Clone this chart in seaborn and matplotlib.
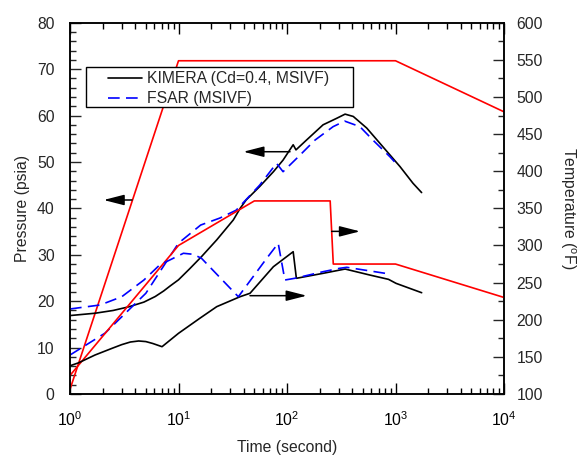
import numpy as np
import pandas as pd
import matplotlib
matplotlib.use("Agg")
import matplotlib.pyplot as plt
from matplotlib.patches import Rectangle
from matplotlib.ticker import LogLocator, MultipleLocator, NullFormatter
import seaborn as sns

# ---------------- data ----------------
# KIMERA pressure (left axis, psia)
t_kimera_p = [1, 1.7, 2.5, 3.5, 4.8, 6.1, 7.3, 8.4, 10, 12.7, 16.3, 22.5, 32, 37, 42, 56, 75, 92,
              114, 121, 151, 215, 287, 343, 408, 543, 719, 1100, 1450, 1740]
kimera_p = [16.9, 17.4, 18.0, 18.8, 19.8, 21.0, 22.2, 23.3, 24.6, 27.0, 29.6, 33.2, 37.5, 40.0,
            41.8, 44.7, 47.9, 50.4, 53.7, 52.6, 54.7, 58.0, 59.4, 60.3, 59.8, 57.3, 54.0, 49.0,
            45.4, 43.4]

# FSAR pressure (left axis, psia)
t_fsar_p = [1, 2.1, 5, 10, 16, 24, 34, 56, 80, 92, 127, 181, 266, 340, 470, 620, 890, 1000]
fsar_p = [8.4, 13.1, 21.7, 32.5, 36.4, 37.9, 39.6, 45.0, 49.7, 47.9, 51.1, 54.7, 57.6,
          58.8, 57.6, 54.7, 51.1, 49.8]

# KIMERA temperature (right axis, F)
t_kimera_t = [1, 1.2, 1.7, 2.44, 3.0, 3.6, 4.29, 5.0, 5.8, 7.05, 10, 15.7, 22.5, 36.9, 45.6,
              74.9, 114, 122, 215, 343, 580, 862, 1012, 1742]
kimera_t = [138, 142, 152.5, 161.5, 166.5, 170.0, 171.4, 170.6, 168.0, 163.7, 181.7, 201.9,
            217.6, 231, 235.6, 271.4, 291.6, 255.8, 262.5, 268.3, 260.2, 254.4, 249, 236.4]

# FSAR temperature (right axis, F)
t_fsar_t = [1, 1.9, 3.0, 4.8, 6.7, 11.1, 13.7, 16.3, 35.6, 65, 83, 95.6, 118, 215,
            307, 355, 804]
fsar_t = [214.5, 219.9, 231, 253.5, 273.7, 289.5, 288.1, 282.7, 231, 282.7, 302.9,
          253.5, 255.8, 264.7, 269.3, 270.6, 262.5]

# red boundary curves
t_red_p = [1, 10, 1000, 10000]
red_p = [1.0, 71.8, 71.8, 60.8]
t_red_t = [1, 10, 50, 250, 267, 1000, 10000]
red_t = [125, 300, 360, 360, 275, 275, 230]

# direction arrows: (tail_x, tip_x, y)
arrows_left = [(3.73, 2.04, 41.8), (106.6, 39.6, 52.2)]
arrows_right = [(258, 471, 319), (45.6, 152, 232.4)]

legend_labels = ["KIMERA (Cd=0.4, MSIVF)", "FSAR (MSIVF)"]

# ---------------- style ----------------
sns.set_style("ticks")
plt.rcParams["font.family"] = ["Liberation Sans", "DejaVu Sans"]
plt.rcParams["mathtext.fontset"] = "custom"
plt.rcParams["mathtext.rm"] = "Liberation Sans"
plt.rcParams["mathtext.it"] = "Liberation Sans:italic"
FS = 11.3

fig = plt.figure(figsize=(5.8, 4.59), dpi=100)
ax = fig.add_axes([70 / 580, 1 - 394 / 459, 434 / 580, 371.3 / 459])
ax2 = ax.twinx()

LW = 1.2
dash = (7.0, 3.8)

sns.lineplot(x=t_red_p, y=red_p, ax=ax, color="#ff0000", lw=LW, sort=False, estimator=None)
sns.lineplot(x=t_kimera_p, y=kimera_p, ax=ax, color="black", lw=LW, sort=False, estimator=None)
sns.lineplot(x=t_fsar_p, y=fsar_p, ax=ax, color="#0000ff", lw=LW, sort=False, estimator=None)
ax.lines[-1].set_dashes(dash)

sns.lineplot(x=t_red_t, y=red_t, ax=ax2, color="#ff0000", lw=LW, sort=False, estimator=None)
sns.lineplot(x=t_kimera_t, y=kimera_t, ax=ax2, color="black", lw=LW, sort=False, estimator=None)
sns.lineplot(x=t_fsar_t, y=fsar_t, ax=ax2, color="#0000ff", lw=LW, sort=False, estimator=None)
ax2.lines[-1].set_dashes(dash)

ax.set_xscale("log")
ax.set_xlim(1, 1e4)
ax.set_ylim(0, 80)
ax2.set_ylim(100, 600)

ax.yaxis.set_major_locator(MultipleLocator(10))
ax.yaxis.set_minor_locator(MultipleLocator(2))
ax2.yaxis.set_major_locator(MultipleLocator(50))
ax2.yaxis.set_minor_locator(MultipleLocator(25))
ax.xaxis.set_major_locator(LogLocator(base=10, numticks=10))
ax.xaxis.set_minor_locator(LogLocator(base=10, subs=np.arange(2, 10), numticks=20))
ax.xaxis.set_minor_formatter(NullFormatter())

for a in (ax, ax2):
    for s in a.spines.values():
        s.set_linewidth(1.1)
        s.set_color("black")
ax.tick_params(axis="x", which="both", direction="in", top=True, bottom=True,
               labelsize=FS, pad=12, width=1.0, colors="black")
ax.tick_params(axis="x", which="major", length=8)
ax.tick_params(axis="x", which="minor", length=4.5)
ax.tick_params(axis="y", which="both", direction="in", left=True, right=False,
               labelsize=FS, pad=11, width=1.0)
ax.tick_params(axis="y", which="major", length=8)
ax.tick_params(axis="y", which="minor", length=4.5)
ax2.tick_params(axis="y", which="both", direction="in", right=True, left=False,
                labelsize=FS, pad=9, width=1.0)
ax2.tick_params(axis="y", which="major", length=8)
ax2.tick_params(axis="y", which="minor", length=4.5)

ax.set_xlabel("Time (second)", fontsize=FS, labelpad=8)
ax.set_ylabel("Pressure (psia)", fontsize=FS, labelpad=5)
ax2.set_ylabel(r"Temperature ($^{\mathrm{o}}$F)", fontsize=FS, rotation=270,
               va="bottom", labelpad=11)

arrow_style = "-|>,head_length=1.25,head_width=0.32"
for tail, tip, y in arrows_left:
    ax.annotate("", xy=(tip, y), xytext=(tail, y),
                arrowprops=dict(arrowstyle=arrow_style, color="black", lw=1.1,
                                shrinkA=0, shrinkB=0, mutation_scale=10))
for tail, tip, y in arrows_right:
    ax2.annotate("", xy=(tip, y), xytext=(tail, y),
                 arrowprops=dict(arrowstyle=arrow_style, color="black", lw=1.1,
                                 shrinkA=0, shrinkB=0, mutation_scale=10))

# legend (drawn on the top axes so the box sits above all curves)
handles = [ax.lines[1], ax.lines[2]]
leg = ax2.legend(handles, legend_labels, loc="center left",
                 bbox_to_anchor=((108.3 - 70) / 434, (394 - 88.7) / 371.3),
                 frameon=False, fontsize=FS, borderpad=0, borderaxespad=0,
                 handlelength=2.13, handletextpad=0.36, labelspacing=0.32)
box = Rectangle(((86 - 70) / 434, (394 - 107.3) / 371.3), 267.3 / 434, 40.6 / 371.3,
                transform=ax2.transAxes, fill=True, facecolor="white",
                edgecolor="black", lw=1.0, zorder=4)
ax2.add_patch(box)
leg.set_zorder(5)

fig.savefig("out.png", dpi=100)
